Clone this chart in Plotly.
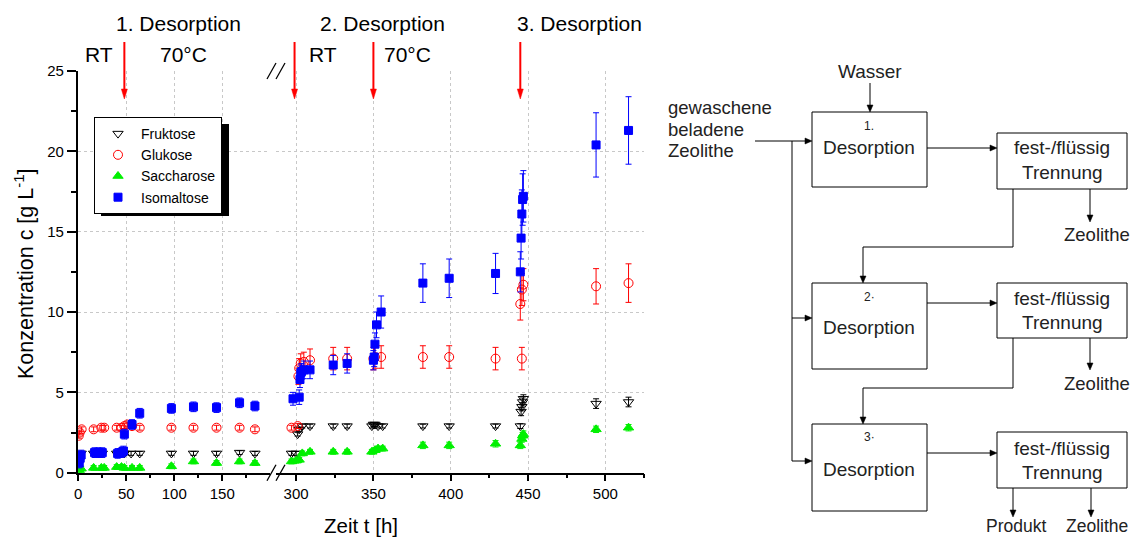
import plotly.graph_objects as go

W, H = 1133, 537
FONT = "Liberation Sans, Arial, sans-serif"


def px(x):
    return x / W


def py(y):
    return 1 - y / H


# ---------------- data ----------------
fru_t = [1, 3, 16, 21, 25, 40, 45, 48, 55, 64, 97, 120, 144, 168, 184,
         297, 300, 301, 302, 304, 309, 324, 333, 349, 350, 351, 353, 356,
         382, 399, 429, 445, 445.5, 446, 446.5, 447, 494, 515]
fru_c = [1.0, 1.2, 1.2, 1.2, 1.2, 1.2, 1.2, 1.2, 1.2, 1.2, 1.2, 1.2, 1.2, 1.25, 1.2,
         1.2, 1.2, 2.4, 2.7, 2.9, 2.9, 2.9, 2.9, 2.9, 3.0, 3.0, 2.9, 2.9,
         2.9, 2.9, 2.9, 2.9, 3.8, 4.1, 4.4, 4.6, 4.3, 4.4]
fru_e = [0.12] * 31 + [0.15, 0.25, 0.25, 0.25, 0.25, 0.3, 0.3]

glu_t = [0.5, 1.5, 3.5, 16, 24, 27, 40, 45, 48, 51, 56, 64, 97, 120, 144, 168, 184,
         297, 301, 301.5, 302, 303, 305, 309, 324, 333, 350, 351, 355,
         382, 399, 429, 446, 445, 446, 447, 494, 515]
glu_c = [2.3, 2.5, 2.7, 2.7, 2.8, 2.8, 2.8, 2.8, 2.9, 3.0, 2.9, 2.8, 2.8, 2.8, 2.8, 2.8, 2.7,
         2.8, 2.9, 6.0, 6.5, 6.8, 6.9, 7.0, 7.1, 7.1, 7.1, 7.2, 7.2,
         7.2, 7.2, 7.1, 7.1, 10.5, 11.4, 11.7, 11.6, 11.8]
glu_e = [0.15] * 19 + [0.5, 0.6, 0.6, 0.6, 0.7, 0.7, 0.7, 0.7, 0.7, 0.7,
                       0.7, 0.7, 0.7, 0.7, 1.0, 1.0, 1.0, 1.1, 1.2]

sac_t = [1, 3, 16, 24, 27, 40, 45, 48, 56, 64, 97, 120, 144, 168, 184,
         297, 300, 302, 304, 309, 324, 333, 349, 351, 353, 356,
         382, 399, 429, 445, 446, 446.5, 447, 494, 515]
sac_c = [0.15, 0.25, 0.3, 0.3, 0.3, 0.35, 0.35, 0.3, 0.3, 0.3, 0.4, 0.7, 0.6, 0.7, 0.6,
         0.7, 0.75, 0.8, 1.2, 1.3, 1.3, 1.3, 1.3, 1.4, 1.5, 1.5,
         1.7, 1.7, 1.8, 1.7, 2.1, 2.3, 2.4, 2.7, 2.8]
sac_e = [0.15] * 26 + [0.2] * 9

iso_t = [1, 2, 3, 17, 21, 25, 41, 45, 47, 48, 56, 64, 97, 120, 144, 168, 184,
         298, 302, 302.5, 303, 303.5, 305, 309, 324, 333, 350, 350.5, 351, 352, 355,
         382, 399, 429, 445, 445.5, 446, 446.5, 447, 494, 515]
iso_c = [0.6, 0.9, 1.1, 1.25, 1.25, 1.25, 1.2, 1.25, 1.35, 2.4, 3.0, 3.7, 4.0, 4.1, 4.05, 4.35, 4.15,
         4.6, 4.7, 5.8, 6.2, 6.3, 6.4, 6.4, 6.7, 6.8, 7.0, 7.2, 8.0, 9.2, 10.0,
         11.8, 12.1, 12.4, 12.5, 14.6, 16.1, 17.0, 17.2, 20.4, 21.3]
iso_e = [0.3] * 17 + [0.4, 0.45, 0.5, 0.5, 0.5, 0.55, 0.55, 0.6, 0.6, 0.6, 0.6, 0.7, 0.8, 1.0,
                      1.2, 1.2, 1.25, 1.25, 1.3, 1.5, 1.6, 1.6, 2.0, 2.1]

x_left_range = [-0.6, 199.7]
x_right_range = [287, 525]
y_range = [0, 25]
BREAK_AT = 250

desorption_times = [48, 299, 350, 445]

fig = go.Figure()

series = [
    ("Fruktose", fru_t, fru_c, fru_e, "triangle-down-open", "black", 9),
    ("Glukose", glu_t, glu_c, glu_e, "circle-open", "#ff0000", 9),
    ("Saccharose", sac_t, sac_c, sac_e, "triangle-up", "#00f000", 9),
    ("Isomaltose", iso_t, iso_c, iso_e, "square", "#0000ff", 8),
]

for name, t, c, e, sym, col, size in series:
    for i, xa in enumerate(["x", "x2"]):
        idx = [k for k, v in enumerate(t) if (v < BREAK_AT) == (i == 0)]
        fig.add_trace(go.Scatter(
            x=[t[k] for k in idx], y=[c[k] for k in idx],
            error_y=dict(type="data", array=[e[k] for k in idx], color=col,
                         thickness=1, width=3),
            mode="markers",
            marker=dict(symbol=sym, color=col, size=size, line=dict(color=col, width=1)),
            name=name, legendgroup=name, showlegend=(i == 0),
            xaxis=xa, yaxis="y"))

grid = dict(showgrid=True, gridcolor="#c8c8c8", griddash="3px,3px", gridwidth=1)
tickfont = dict(size=15, color="black", family=FONT)


def xax(domain, rng, top=False, overlay=None):
    d = dict(domain=domain, range=rng, tick0=0, dtick=50, showline=True, linecolor="black",
             linewidth=1.5, ticks="inside" if top else "outside", ticklen=7, tickwidth=1.5,
             tickcolor="black", tickfont=tickfont, zeroline=False, anchor="y",
             automargin=False,
             minor=dict(tick0=0, dtick=25, ticks="inside" if top else "outside", ticklen=4,
                        tickwidth=1.5, tickcolor="black", showgrid=False))
    if top:
        d.update(side="top", showticklabels=False, showgrid=False, overlaying=overlay)
    else:
        d.update(grid)
    return d


ydom = [py(472.7), py(71)]
fig.update_layout(
    width=W, height=H, margin=dict(l=0, r=0, t=0, b=0),
    paper_bgcolor="white", plot_bgcolor="white",
    font=dict(family=FONT, color="black"),
    xaxis=xax([px(77.7), px(270)], x_left_range),
    xaxis2=xax([px(276), px(644)], x_right_range),
    xaxis3=xax([px(77.7), px(270)], x_left_range, top=True, overlay="x"),
    xaxis4=xax([px(276), px(644)], x_right_range, top=True, overlay="x2"),
    yaxis=dict(domain=ydom, range=y_range, dtick=5, showline=True, linecolor="black",
               linewidth=1.5, ticks="outside", ticklen=9, tickwidth=1.5, tickcolor="black",
               tickfont=tickfont, zeroline=False, anchor="x", automargin=False,
               minor=dict(dtick=2.5, ticks="outside", ticklen=5, tickwidth=1.5,
                          tickcolor="black", showgrid=False), **grid),
    yaxis2=dict(domain=ydom, range=y_range, dtick=5, showline=True, linecolor="black",
                linewidth=1.5, ticks="inside", ticklen=9, tickwidth=1.5, tickcolor="black",
                showticklabels=False, showgrid=False, zeroline=False, side="right",
                overlaying="y", anchor="x2", automargin=False,
                minor=dict(dtick=2.5, ticks="inside", ticklen=5, tickwidth=1.5,
                           tickcolor="black", showgrid=False)),
    legend=dict(x=px(94), y=py(117), xanchor="left", yanchor="top",
                bgcolor="white", bordercolor="black", borderwidth=1,
                font=dict(size=14, family=FONT, color="black"),
                itemwidth=36, tracegroupgap=0),
    showlegend=True,
)

shapes = []
# legend shadow
shapes.append(dict(type="rect", xref="paper", yref="paper", x0=px(101), x1=px(229),
                   y0=py(216), y1=py(124), fillcolor="black", line=dict(width=0), layer="above"))
# axis break marks
for yb in (472.7, 71):
    for xs in (267, 276):
        shapes.append(dict(type="line", xref="paper", yref="paper",
                           x0=px(xs), y0=py(yb + 8), x1=px(xs + 9), y1=py(yb - 8),
                           line=dict(color="black", width=1.3)))

# flowchart boxes
boxes = [(812, 112, 927, 187), (997, 133, 1127, 189),
         (812, 283, 927, 369), (997, 283, 1127, 338),
         (812, 424, 927, 511), (997, 432, 1127, 488)]
for x0, y0, x1, y1 in boxes:
    shapes.append(dict(type="rect", xref="paper", yref="paper", x0=px(x0), x1=px(x1),
                       y0=py(y1), y1=py(y0), line=dict(color="black", width=1)))


def poly(points, color="black", width=1, fill=None):
    d = "M " + " L ".join(f"{px(x)},{py(y)}" for x, y in points)
    s = dict(type="path", xref="paper", yref="paper", path=d + (" Z" if fill else ""),
             line=dict(color=color, width=width))
    if fill:
        s["fillcolor"] = fill
    shapes.append(s)


def arrow(x0, y0, x1, y1, color="black", width=1, hl=7, hw=6):
    dx, dy = x1 - x0, y1 - y0
    n = (dx * dx + dy * dy) ** 0.5
    ux, uy = dx / n, dy / n
    bx, by = x1 - ux * hl, y1 - uy * hl
    poly([(x0, y0), (bx, by)], color, width)
    poly([(x1, y1), (bx - uy * hw / 2, by + ux * hw / 2), (bx + uy * hw / 2, by - ux * hw / 2)],
         color, 0.5, fill=color)


poly([(792, 141), (792, 461)])
poly([(1013, 189), (1013, 247), (863, 247), (863, 262)])
poly([(1013, 338), (1013, 388), (863, 388), (863, 404)])

arrow(870, 83, 870, 112)
arrow(755, 141, 812, 141)
arrow(792, 318, 812, 318)
arrow(792, 461, 812, 461)
arrow(927, 148, 997, 148)
arrow(927, 303, 997, 303)
arrow(927, 453, 997, 453)
arrow(1090, 189, 1090, 222)
arrow(1090, 338, 1090, 370)
arrow(1013, 488, 1013, 517)
arrow(1091, 488, 1091, 517)
arrow(863, 262, 863, 283)
arrow(863, 404, 863, 424)

# red desorption arrows, anchored at data x positions
for tt in desorption_times:
    xr = "x" if tt < BREAK_AT else "x2"
    shapes.append(dict(type="line", xref=xr, yref="paper", xsizemode="pixel", xanchor=tt,
                       x0=0, x1=0, y0=py(42), y1=py(90),
                       line=dict(color="#ff0000", width=2)))
    shapes.append(dict(type="path", xref=xr, yref="paper", xsizemode="pixel", xanchor=tt,
                       path=f"M -3,{py(89)} L 3,{py(89)} L 0,{py(99)} Z",
                       fillcolor="#ff0000", line=dict(color="#ff0000", width=0.5)))

fig.update_layout(shapes=shapes)


def label(x, y, text, size=19, color="black", anchor="center", angle=0):
    fig.add_annotation(x=px(x), y=py(y), xref="paper", yref="paper", text=text,
                       showarrow=False, xanchor=anchor, yanchor="middle", textangle=angle,
                       font=dict(size=size, color=color, family=FONT))


label(178, 23, "1. Desorption", 21)
label(382, 23, "2. Desorption", 21)
label(579, 23, "3. Desorption", 21)
label(99, 55, "RT", 21)
label(183, 55, "70°C", 21)
label(323, 55, "RT", 21)
label(407, 55, "70°C", 21)
label(361, 525, "Zeit t [h]", 20.5)
label(24, 274, "Konzentration c [g L<sup>-1</sup>]", 21.5, angle=-90)

fc = "#222222"
label(870, 72, "Wasser", 19, fc)
label(666, 107, "gewaschene", 18.5, fc, "left")
label(666, 129, "beladene", 18.5, fc, "left")
label(666, 150, "Zeolithe", 18.5, fc, "left")
label(869, 126, "1.", 12, fc)
label(869, 147, "Desorption", 19, fc)
label(869, 297, "2·", 12, fc)
label(869, 327, "Desorption", 19, fc)
label(869, 437, "3·", 12, fc)
label(869, 469, "Desorption", 19, fc)
for yy in (148, 298, 448):
    label(1062, yy, "fest-/flüssig", 19, fc)
    label(1062, yy + 24, "Trennung", 19, fc)
label(1097, 234, "Zeolithe", 18.5, fc)
label(1097, 383, "Zeolithe", 18.5, fc)
label(1016, 526, "Produkt", 17.5, fc)
label(1097, 526, "Zeolithe", 17.5, fc)

fig.write_html("out.html", config={"displayModeBar": False},
               post_script="document.body.style.margin='0';document.body.style.overflow='hidden';")
